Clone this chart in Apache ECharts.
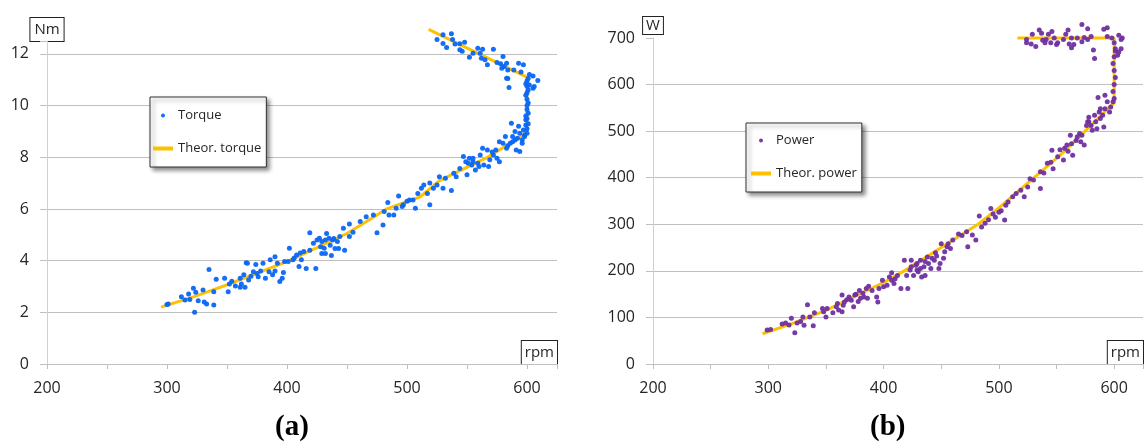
<!DOCTYPE html>
<html><head><meta charset="utf-8">
<script src="https://cdn.jsdelivr.net/npm/echarts@6/dist/echarts.min.js"></script>
<style>html,body{margin:0;padding:0;background:#fff}#c{width:1147px;height:447px}</style>
</head><body><div id="c"></div>
<script>
// ---- data ----
const rpmTickLabels = [200, 300, 400, 500, 600];
const torqueTickLabels = [0, 2, 4, 6, 8, 10, 12];
const powerTickLabels = [0, 100, 200, 300, 400, 500, 600, 700];

const theorTorque = [[295,2.2],[322,2.6],[350,3.06],[402,4.0],[450,5.05],[483,6.0],[511,6.47],[527,7.1],[567,8.0],[597,8.85],[600,9.0],[600,11.1],[518,12.95]];

const torquePoints = [
[300,2.3],[301,2.32],[312,2.6],[315,2.48],[318,2.71],[319,2.5],[322,2.93],[323,2.0],[324,2.78],[326,2.45],[330,2.86],[331,2.4],[333,2.32],[335,3.66],[339,2.8],[339,2.28],[341,3.28],[348,3.32],[351,2.8],[352,3.1],[354,3.2],[357,3.02],[361,3.32],[361,2.97],[364,3.45],[365,2.97],[366,3.92],[367,3.9],[368,3.25],[372,3.57],[374,3.85],[375,3.5],[376,3.38],[380,3.9],[382,3.32],[385,3.57],[386,4.03],[388,3.45],[390,4.15],[390,3.6],[394,3.19],[396,3.32],[397,3.54],[398,3.97],[401,3.97],[402,4.48],[405,4.03],[408,4.22],[410,3.77],[411,4.3],[412,4.03],[416,3.7],[419,5.08],[419,4.4],[422,4.67],[424,3.7],[425,4.8],[428,4.54],[429,4.28],[432,4.8],[433,5.05],[436,4.6],[437,4.2],[439,4.86],[440,4.47],[443,4.47],[444,4.93],[447,5.25],[448,4.4],[452,5.42],[452,4.93],[455,5.1],[461,5.51],[466,5.7],[472,5.77],[475,5.08],[480,5.38],[481,5.9],[484,6.25],[485,5.77],[489,5.77],[491,6.03],[493,6.5],[496,6.1],[497,6.16],[500,6.3],[502,6.35],[505,6.35],[507,6.03],[509,6.6],[512,6.8],[514,6.93],[517,6.6],[519,6.16],[519,7.0],[522,6.8],[525,6.93],[527,7.25],[530,6.8],[532,7.19],[537,6.71],[539,7.38],[541,7.25],[544,7.57],[547,8.03],[549,7.83],[550,7.32],[552,7.96],[554,7.7],[555,7.83],[557,7.51],[560,7.64],[561,8.09],[563,8.35],[564,7.7],[567,8.28],[568,7.64],[569,7.9],[572,8.09],[574,8.28],[575,7.96],[577,7.83],[577,8.6],[580,8.54],[582,8.8],[583,8.35],[586,8.54],[587,9.32],[588,8.8],[590,9.0],[591,8.28],[593,9.2],[594,8.22],[596,8.67],[597,9.06],[598,8.86],[599,9.25],[600,8.93],[599,9.45],
[427,4.87],[429,4.74],[435,4.87],[431,4.48],[438,4.8],[442,4.74],[432,4.28],[362,3.1],[370,3.4],[378,3.6],[392,3.9],[406,4.1],[414,4.35],
[594,8.93],[592,8.74],[598,8.8],[596,8.54],[590,8.67],[555,7.96],[559,7.77],[551,7.77],[571,8.2],[584,8.45],[588,8.6],
[600,9.1],[601,9.3],[600,9.5],[599,9.6],[601,9.7],[600,9.85],[600,10.0],[601,10.1],[600,10.25],[599,10.4],[600,10.5],[601,10.6],[600,10.75],[599,10.85],[600,10.95],[601,11.05],
[605,10.67],[606,10.74],[609,10.97],[602,10.8],[585,10.7],[583,11.06],[584,11.05],[602,11.2],[605,11.15],
[525,12.56],[530,12.74],[537,12.78],[530,12.4],[533,12.25],[538,12.56],[540,12.38],[544,12.39],[548,12.45],[544,12.16],[546,12.1],[552,11.87],[555,12.03],[559,12.22],[561,12.03],[563,12.18],[562,11.83],[565,11.77],[567,11.58],[572,12.18],[575,11.67],[578,11.62],[580,11.9],[581,11.51],[579,11.45],[583,11.64],[584,11.38],[589,11.38],[593,11.64],[597,11.58],[595,11.3]
];

const theorPower = [[295,65],[320,86],[350,115],[400,175],[418,200],[450,250],[482,300],[500,335],[553,448],[586,527],[596,552],[600,560],[600,700],[516,700]];

const powerPoints = [
[299,73],[302,74],[312,86],[315,88],[318,84],[320,98],[323,67],[325,88],[328,91],[330,101],[331,83],[334,127],[336,101],[339,82],[340,110],[347,119],[348,112],[350,101],[351,119],[356,110],[359,123],[360,130],[361,116],[364,112],[364,148],[365,126],[366,133],[370,144],[372,137],[374,123],[375,148],[378,134],[379,158],[380,141],[383,144],[385,162],[386,141],[387,167],[390,158],[394,144],[395,133],[396,162],[399,180],[400,166],[403,169],[405,187],[407,180],[407,196],[409,173],[410,183],[415,162],[418,223],[420,190],[421,162],[423,202],[424,209],[426,190],[429,216],[430,198],[432,223],[433,187],[435,209],[436,190],[438,230],[439,216],[441,205],[442,227],[444,223],[445,239],[448,205],[449,216],[450,258],[452,227],[453,241],[455,252],[458,248],[460,266],[465,279],[472,284],[473,252],[477,277],[480,266],[483,318],[485,294],[488,302],[491,310],[493,334],[495,322],[497,315],[500,326],[502,329],[505,309],[506,341],[508,348],
[428,212],[432,205],[436,220],[429,202],[424,223],[368,138],[376,150],[382,152],[412,190],[446,232],[456,258],[468,276],
[512,359],[515,366],[519,373],[522,359],[527,398],[530,395],[525,380],[536,377],[536,413],[539,410],[542,431],[545,433],[546,459],[547,419],[551,445],[553,460],[556,438],[557,463],[560,457],[562,491],[563,473],[564,448],[567,480],[570,495],[571,477],[574,470],[572,491],[577,520],[578,530],[580,512],[581,502],[584,520],[587,541],[588,527],[590,534],[591,509],[592,548],[594,563],[596,541],[586,572],[592,577],[597,552],[599,563],
[578,520],[583,534],[588,548],[576,512],[585,505],[568,488],[559,470],
[600,570],[599,585],[600,600],[601,615],[600,630],[599,645],[600,660],[601,672],[600,690],
[601,677],[606,677],[604,670],[603,663],[583,656],[582,674],[572,729],[577,720],[591,719],[594,722],[594,703],[598,700],[604,706],[607,700],[606,697],[580,703],[577,697],[574,701],[572,692],[568,700],[563,700],[565,686],[561,687],[563,679],[560,717],[558,708],[556,697],[550,686],[548,700],[546,714],[543,708],[541,697],[540,690],[538,695],[535,717],[537,710],[529,708],[528,687],[524,690],[532,682],[524,697],[545,690],[551,690]
];

// ---- chart ----
const FONT = '"Open Sans", "Noto Sans", sans-serif';
const TXT = '#262626';
const boxName = (pad) => ({fontFamily: FONT, fontSize: 15, color: TXT, borderColor: '#222', borderWidth: 1, padding: pad, backgroundColor: '#fff'});

function xAxis(gi) {
  return {
    type: 'value', gridIndex: gi, min: 200, max: 625, interval: 50,
    axisLine: {show: true, onZero: false, lineStyle: {color: '#bfbfbf', width: 1}},
    axisTick: {show: true, length: 5, lineStyle: {color: '#bfbfbf'}},
    axisLabel: {margin: 16, fontFamily: FONT, fontSize: 16, color: TXT,
      formatter: v => rpmTickLabels.includes(v) ? String(v) : ''},
    splitLine: {show: false},
    name: 'rpm', nameLocation: 'end', nameGap: 0,
    nameTextStyle: Object.assign(boxName([4, 3, 4, 3]), {align: 'right', verticalAlign: 'bottom'})
  };
}
function yAxis(gi, max, interval, labels, name, pad, gap) {
  return {
    type: 'value', gridIndex: gi, min: 0, max: max, interval: interval,
    axisLine: {show: true, lineStyle: {color: '#d0d0d0', width: 1}},
    axisTick: {show: true, length: 7, lineStyle: {color: '#bfbfbf'}},
    axisLabel: {margin: 18, fontFamily: FONT, fontSize: 16, color: TXT,
      formatter: v => labels.includes(v) ? String(v) : ''},
    splitLine: {show: true, showMaxLine: false, lineStyle: {color: '#bfbfbf', width: 1}},
    name: name, nameLocation: 'end', nameGap: gap,
    nameTextStyle: boxName(pad)
  };
}
function legend(names, left, top, padding) {
  return {
    data: [
      {name: names[0], icon: 'circle'},
      {name: names[1], icon: 'rect', itemStyle: {color: '#FFC000'}}
    ],
    orient: 'vertical', left: left, top: top, padding: padding,
    itemWidth: 20, itemHeight: 4, itemGap: 20,
    backgroundColor: '#fff', borderColor: '#303030', borderWidth: 1,
    shadowBlur: 4, shadowColor: 'rgba(0,0,0,0.45)', shadowOffsetX: 3, shadowOffsetY: 3,
    textStyle: {fontFamily: FONT, fontSize: 13, color: TXT},
    selectedMode: false
  };
}

const chart = echarts.init(document.getElementById('c'), null, {renderer: 'canvas'});
chart.setOption({
  animation: false,
  backgroundColor: '#fff',
  grid: [
    {left: 47, top: 41, width: 510, height: 323, containLabel: false},
    {left: 653, top: 38, width: 501, height: 326, containLabel: false}
  ],
  xAxis: [xAxis(0), xAxis(1)],
  yAxis: [
    yAxis(0, 12.5, 2, torqueTickLabels, 'Nm', [4, 4, 4, 4], 0),
    yAxis(1, 700, 100, powerTickLabels, 'W', [1, 3, 1, 3], 4)
  ],
  legend: [
    legend(['Torque', 'Theor. torque'], 150, 97, [12, 5, 12, 3]),
    legend(['Power', 'Theor. power'], 746, 123, [11, 5, 12, 5])
  ],
  series: [
    {name: 'Theor. torque', type: 'line', xAxisIndex: 0, yAxisIndex: 0, data: theorTorque,
      symbol: 'none', showSymbol: false, clip: false, z: 2, lineStyle: {color: '#FFC000', width: 3}, itemStyle: {color: '#FFC000'}},
    {name: 'Torque', type: 'scatter', xAxisIndex: 0, yAxisIndex: 0, data: torquePoints,
      symbolSize: 5, clip: false, z: 3, itemStyle: {color: '#0a66f5', opacity: 0.95}},
    {name: 'Theor. power', type: 'line', xAxisIndex: 1, yAxisIndex: 1, data: theorPower,
      symbol: 'none', showSymbol: false, clip: false, z: 2, lineStyle: {color: '#FFC000', width: 3}, itemStyle: {color: '#FFC000'}},
    {name: 'Power', type: 'scatter', xAxisIndex: 1, yAxisIndex: 1, data: powerPoints,
      symbolSize: 5, clip: false, z: 3, itemStyle: {color: '#7030a0', opacity: 0.95}}
  ],
  graphic: [
    {type: 'text', left: 275, top: 413, style: {text: '(a)', font: 'bold 29px "Liberation Serif", serif', fill: '#000'}},
    {type: 'text', left: 870, top: 413, style: {text: '(b)', font: 'bold 29px "Liberation Serif", serif', fill: '#000'}}
  ]
});
</script>
</body></html>
